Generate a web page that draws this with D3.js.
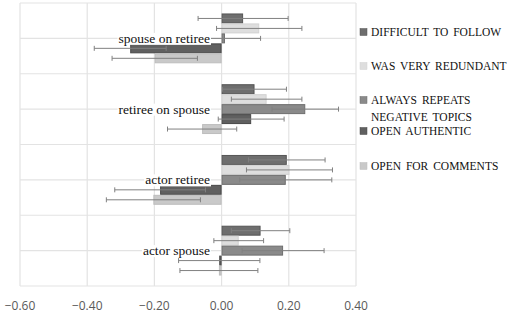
<!DOCTYPE html>
<html><head><meta charset="utf-8">
<script src="https://cdn.jsdelivr.net/npm/d3@7"></script>
<style>body{margin:0;background:#fff}svg{display:block}
.serif{font-family:"Liberation Serif","DejaVu Serif",serif}</style>
</head><body>
<svg id="c" width="510" height="314"></svg>
<script>
const categories = ["spouse on retiree", "retiree on spouse", "actor retiree", "actor spouse"];
const seriesNames = ["DIFFICULT TO FOLLOW", "WAS VERY REDUNDANT", "ALWAYS REPEATS NEGATIVE TOPICS", "OPEN AUTHENTIC", "OPEN FOR COMMENTS"];
const difficult   = [0.064, 0.098, 0.194, 0.116];
const redundant   = [0.112, 0.134, 0.202, 0.051];
const repeats     = [0.010, 0.249, 0.191, 0.183];
const authentic   = [-0.272, 0.088, -0.183, -0.007];
const comments    = [-0.199, -0.058, -0.203, -0.008];
const errDifficult = [0.134, 0.095, 0.114, 0.087];
const errRedundant = [0.127, 0.105, 0.128, 0.074];
const errRepeats   = [0.106, 0.099, 0.137, 0.122];
const errAuthentic = [0.107, 0.098, 0.135, 0.121];
const errComments  = [0.127, 0.103, 0.140, 0.116];
const xTicks = [-0.6, -0.4, -0.2, 0, 0.2, 0.4];

const values = [difficult, redundant, repeats, authentic, comments];
const errors = [errDifficult, errRedundant, errRepeats, errAuthentic, errComments];
const fills = ["#6e6e6e", "#dedede", "#8a8a8a", "#606060", "#c9c9c9"];
const strokes = ["#555555", "#d2d2d2", "#6e6e6e", "#484848", "#bdbdbd"];

const svg = d3.select("#c");
const x = d3.scaleLinear().domain([-0.6, 0.4]).range([20, 356]);
const y = d3.scaleBand().domain(categories).range([3, 286]);
const ys = d3.scaleBand().domain(seriesNames).range([0, y.bandwidth()]).paddingOuter(1.05);

// grid
const g = svg.append("g");
g.selectAll("line.v").data(xTicks).join("line")
  .attr("x1", d => x(d)).attr("x2", d => x(d)).attr("y1", 3).attr("y2", 286)
  .attr("stroke", "#e3e3e3").attr("stroke-width", 1.2);
const hLines = [];
categories.forEach(c => { hLines.push(y(c)); hLines.push(y(c) + y.bandwidth()/2); });
hLines.push(y(categories[categories.length-1]) + y.bandwidth());
g.selectAll("line.h").data(hLines).join("line")
  .attr("x1", 20).attr("x2", 356).attr("y1", d => d).attr("y2", d => d)
  .attr("stroke", "#e3e3e3").attr("stroke-width", 1.2);

// bars
const rows = [];
categories.forEach((c, ci) => seriesNames.forEach((s, si) => rows.push({c, s, si, v: values[si][ci], e: errors[si][ci]})));
svg.append("g").selectAll("rect").data(rows).join("rect")
  .attr("x", d => x(Math.min(0, d.v)) + 0.5)
  .attr("width", d => Math.max(0.5, Math.abs(x(d.v) - x(0)) - 1))
  .attr("y", d => y(d.c) + ys(d.s) + 0.5)
  .attr("height", ys.bandwidth() - 1)
  .attr("fill", d => fills[d.si]).attr("stroke", d => strokes[d.si]).attr("stroke-width", 1);

// error bars
const eb = svg.append("g").attr("stroke", "#808080").attr("stroke-width", 1);
rows.forEach(d => {
  const cy = y(d.c) + ys(d.s) + ys.bandwidth()/2;
  const x1 = x(d.v - d.e), x2 = x(d.v + d.e);
  eb.append("line").attr("x1", x1).attr("x2", x2).attr("y1", cy).attr("y2", cy);
  eb.append("line").attr("x1", x1).attr("x2", x1).attr("y1", cy - 2.5).attr("y2", cy + 2.5);
  eb.append("line").attr("x1", x2).attr("x2", x2).attr("y1", cy - 2.5).attr("y2", cy + 2.5);
});

// category labels with white background
const lab = svg.append("g").selectAll("g").data(categories).join("g");
const labText = lab.append("text").attr("class", "serif")
  .attr("x", 210).attr("y", d => y(d) + y.bandwidth()/2 + 4.5)
  .attr("text-anchor", "end")
  .attr("font-size", 13.5).attr("fill", "#111")
  .text(d => d);
labText.each(function() {
  const b = this.getBBox();
  d3.select(this.parentNode).insert("rect", "text")
    .attr("x", b.x - 1).attr("y", b.y + 2).attr("width", b.width + 2).attr("height", b.height - 3)
    .attr("fill", "#fff");
});

// x axis labels
svg.append("g").selectAll("text").data(xTicks).join("text")
  .attr("x", d => x(d)).attr("y", 310)
  .attr("text-anchor", "middle")
  .attr("font-family", "'Open Sans', 'DejaVu Sans', sans-serif")
  .attr("font-size", 12).attr("fill", "#595959")
  .text(d => d3.format(".2f")(d));

// legend
const legY = [32, 66, 100, 131, 166];
const lg = svg.append("g").attr("class", "serif")
  .attr("font-size", 11.5).attr("fill", "#111").attr("word-spacing", 2);
seriesNames.forEach((s, i) => {
  lg.append("rect").attr("x", 360).attr("y", legY[i] - 3.5).attr("width", 7).attr("height", 7)
    .attr("fill", fills[i]).attr("stroke", strokes[i]).attr("stroke-width", 0.5);
  if (i === 2) {
    lg.append("text").attr("x", 371).attr("y", legY[i] + 4).text("ALWAYS REPEATS");
    lg.append("text").attr("x", 371).attr("y", legY[i] + 21).text("NEGATIVE TOPICS");
  } else {
    lg.append("text").attr("x", 371).attr("y", legY[i] + 4).text(s);
  }
});
</script>
</body></html>
